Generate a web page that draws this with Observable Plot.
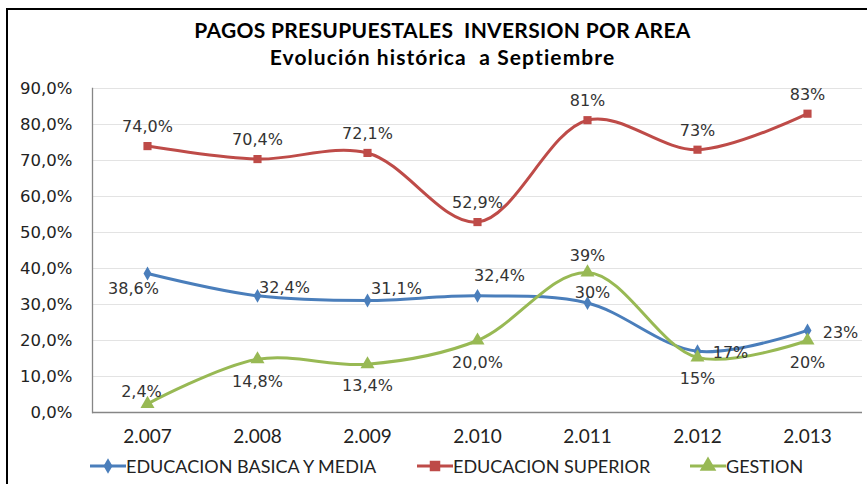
<!DOCTYPE html>
<html><head><meta charset="utf-8">
<script src="https://cdn.jsdelivr.net/npm/d3@7"></script>
<script src="https://cdn.jsdelivr.net/npm/@observablehq/plot@0.6"></script>
<style>
html,body{margin:0;padding:0;background:#fff;overflow:hidden;}
#wrap{position:relative;width:867px;height:484px;overflow:hidden;background:#fff;}
#frame{position:absolute;left:6px;top:8px;width:920px;height:540px;border:2px solid #000;box-sizing:border-box;}
#title{position:absolute;left:0;width:885px;top:18px;text-align:center;font:bold 21px Lato,sans-serif;color:#000;line-height:24px;letter-spacing:0.3px;}
#subtitle{position:absolute;left:0;width:885px;top:45px;text-align:center;font:bold 21px Lato,sans-serif;color:#000;line-height:24px;letter-spacing:1.1px;}
#chart{position:absolute;left:0;top:70px;}
#legend{position:absolute;left:0;top:454px;width:867px;height:24px;font:18px Lato,sans-serif;color:#222;}
.item{position:absolute;top:0;display:flex;align-items:center;height:24px;}
</style></head>
<body>
<div id="wrap">
  <div id="frame"></div>
  <div id="title">PAGOS PRESUPUESTALES&nbsp; INVERSION POR AREA</div>
  <div id="subtitle">Evolución histórica&nbsp; a Septiembre</div>
  <div id="chart"></div>
  <div id="legend"></div>
</div>
<script>
const years = ["2.007", "2.008", "2.009", "2.010", "2.011", "2.012", "2.013"];
const seriesNames = ["EDUCACION BASICA Y MEDIA", "EDUCACION SUPERIOR", "GESTION"];
const basica = [38.6, 32.4, 31.1, 32.4, 30.4, 17.0, 22.8];
const superior = [74.0, 70.4, 72.1, 52.9, 81.2, 73.0, 83.0];
const gestion = [2.4, 14.8, 13.4, 20.0, 38.9, 15.3, 20.0];
const basicaLabels = ["38,6%", "32,4%", "31,1%", "32,4%", "30%", "17%", "23%"];
const superiorLabels = ["74,0%", "70,4%", "72,1%", "52,9%", "81%", "73%", "83%"];
const gestionLabels = ["2,4%", "14,8%", "13,4%", "20,0%", "39%", "15%", "20%"];
const yTicks = [0, 10, 20, 30, 40, 50, 60, 70, 80, 90];

const colors = ["#4A7EBB", "#BE4B48", "#98B954"];
const symbols = ["diamond", "square", "triangle"];

const seriesValues = [basica, superior, gestion];
const seriesLabels = [basicaLabels, superiorLabels, gestionLabels];
const rows = [];
seriesNames.forEach((s, si) => {
  years.forEach((y, i) => {
    rows.push({series: s, si, i, year: y, value: seriesValues[si][i], label: seriesLabels[si][i]});
  });
});

// label offsets (Excel placement), per series per year
const offsets = [
  [[-14, 15], [27, -8], [29, -12], [22, -20], [5, -10], [33, 2], [33, 2]],
  [[0, -19], [0, -19], [0, -19], [0, -19], [0, -19], [0, -19], [0, -19]],
  [[-6, -12], [0, 23], [0, 22], [0, 22], [0, -17], [0, 21], [0, 22]]
];
const markerR = [4.2, 4.6, 5.2];

const fmt = d => d.toFixed(1).replace(".", ",") + "%";

const labelMarks = rows.map(r => Plot.text([r], {
  x: "year", y: "value", text: "label",
  dx: offsets[r.si][r.i][0], dy: offsets[r.si][r.i][1],
  fill: "#333", fontSize: 16, fontFamily: "DejaVu Sans"
}));

const dotMarks = seriesNames.map((s, si) => Plot.dot(rows.filter(d => d.si === si), {
  x: "year", y: "value", fill: "series", symbol: "series", r: markerR[si]
}));

const chart = Plot.plot({
  width: 867,
  height: 382,
  marginTop: 18,
  marginBottom: 40,
  marginLeft: 92,
  marginRight: 5,
  style: {background: "transparent", overflow: "visible"},
  x: {type: "point", domain: years, padding: 0.5, label: null},
  y: {domain: [0, 90], label: null},
  color: {domain: seriesNames, range: colors},
  symbol: {domain: seriesNames, range: symbols},
  marks: [
    Plot.gridY(yTicks.filter(d => d > 0), {stroke: "#E3E3E3", strokeOpacity: 1, strokeWidth: 1}),
    Plot.ruleY([0], {stroke: "#868686", strokeWidth: 1.3}),
    Plot.frame({anchor: "left", stroke: "#868686", strokeWidth: 1.3}),
    Plot.axisY(yTicks, {tickSize: 0, tickPadding: 20, tickFormat: fmt, fontSize: 16.5, fontFamily: "DejaVu Sans", fill: "#222", label: null}),
    Plot.axisX({tickSize: 0, tickPadding: 17, fontSize: 19, fontFamily: "Lato", fill: "#222", label: null}),
    Plot.line(rows, {x: "year", y: "value", z: "series", stroke: "series", curve: "catmull-rom", strokeWidth: 3}),
    ...dotMarks,
    ...labelMarks
  ]
});
document.getElementById("chart").appendChild(chart);

// legend
const legendPos = [90, 417, 690];
const legend = document.getElementById("legend");
seriesNames.forEach((s, si) => {
  const item = document.createElement("div");
  item.className = "item";
  item.style.left = legendPos[si] + "px";
  const sym = d3.symbol(si === 0 ? d3.symbolDiamond : si === 1 ? d3.symbolSquare : d3.symbolTriangle, si === 0 ? 70 : si === 1 ? 110 : 120)();
  item.innerHTML = `<svg width="36" height="24"><line x1="0" y1="12" x2="36" y2="12" stroke="${colors[si]}" stroke-width="3"/><path d="${sym}" transform="translate(18,12)" fill="${colors[si]}"/></svg><span>${s}</span>`;
  legend.appendChild(item);
});
</script>
</body></html>
